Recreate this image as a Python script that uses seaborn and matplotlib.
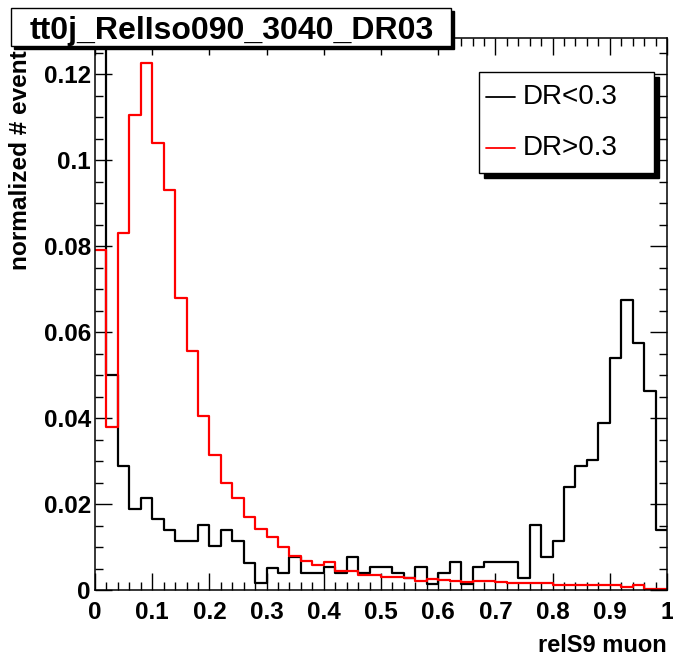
import numpy as np
import pandas as pd
import seaborn as sns
import matplotlib
matplotlib.use("Agg")
import matplotlib.pyplot as plt
from matplotlib.patches import Rectangle
from matplotlib.lines import Line2D
from matplotlib.ticker import MultipleLocator, FormatStrFormatter

# 50 bins of width 0.02 on relS9 in [0, 1]
n_bins = 50
bin_centers = (np.arange(n_bins) + 0.5) / n_bins

# DR<0.3 (first bin runs off the top of the frame)
dr_lt = [0.15, 0.050, 0.0288, 0.0188, 0.0214, 0.0165, 0.0140, 0.0114, 0.0114, 0.0151,
         0.0102, 0.0139, 0.0114, 0.0063, 0.0016, 0.0052, 0.0040, 0.0076, 0.0039, 0.0039,
         0.0053, 0.0039, 0.0076, 0.0039, 0.0053, 0.0053, 0.0039, 0.0028, 0.0053, 0.0014,
         0.0039, 0.0064, 0.0014, 0.0053, 0.0064, 0.0064, 0.0064, 0.0027, 0.0151, 0.0076,
         0.0114, 0.0239, 0.0288, 0.0302, 0.0389, 0.0540, 0.0675, 0.0575, 0.0463, 0.0140]

# DR>0.3
dr_gt = [0.0790, 0.0380, 0.0830, 0.1105, 0.1225, 0.1040, 0.0930, 0.0680, 0.0557, 0.0405,
         0.0315, 0.0250, 0.0214, 0.0170, 0.0143, 0.0123, 0.0101, 0.0080, 0.0068, 0.0059,
         0.0065, 0.0044, 0.0044, 0.0035, 0.0035, 0.0031, 0.0030, 0.0028, 0.0022, 0.0026,
         0.0024, 0.0020, 0.0018, 0.0022, 0.0020, 0.0018, 0.0016, 0.0016, 0.0016, 0.0016,
         0.0012, 0.0012, 0.0012, 0.0012, 0.0012, 0.0011, 0.0006, 0.0011, 0.0003, 0.0003]

labels = ["DR<0.3", "DR>0.3"]
colors = ["black", "#ff0000"]

sns.set_style("ticks", {"text.color": "black", "axes.edgecolor": "black",
                        "xtick.color": "black", "ytick.color": "black",
                        "axes.labelcolor": "black"})
plt.rcParams['font.family'] = ['Liberation Sans', 'DejaVu Sans']

W, H = 673, 663
fig = plt.figure(figsize=(W / 100, H / 100), dpi=100)


def fx(x):
    return x / W


def fy(y):
    return 1 - y / H


ax = fig.add_axes([fx(95), fy(590), fx(667) - fx(95), fy(38) - fy(590)])

for lab, vals, col in zip(labels, [dr_lt, dr_gt], colors):
    df = pd.DataFrame({"x": bin_centers, "w": vals})
    sns.histplot(data=df, x="x", weights="w", bins=n_bins, binrange=(0, 1), element="step",
                 fill=False, color=col, linewidth=1.6, ax=ax)

ax.set_xlim(0, 1)
ax.set_ylim(0, 0.1284)
ax.set_xlabel("")
ax.set_ylabel("")
ax.xaxis.set_major_locator(MultipleLocator(0.1))
ax.xaxis.set_minor_locator(MultipleLocator(0.02))
ax.yaxis.set_major_locator(MultipleLocator(0.02))
ax.yaxis.set_minor_locator(MultipleLocator(0.005))
ax.xaxis.set_major_formatter(FormatStrFormatter("%g"))
ax.yaxis.set_major_formatter(FormatStrFormatter("%g"))
ax.tick_params(which="both", direction="in", top=True, right=True, color="black", width=1)
ax.tick_params(which="major", length=12)
ax.tick_params(which="minor", length=5.8)
ax.tick_params(axis="x", which="major", pad=8, labelsize=17.5, labelcolor="black")
ax.tick_params(axis="y", which="major", pad=3, labelsize=17.5, labelcolor="black")
for lbl in ax.get_xticklabels() + ax.get_yticklabels():
    lbl.set_fontweight("bold")
for sp in ax.spines.values():
    sp.set_visible(True)
    sp.set_color("black")
    sp.set_linewidth(1.1)

# axis titles, ROOT style at the ends of the axes
fig.text(fx(667), fy(645), "relS9 muon", ha="right", va="center",
         fontsize=17, fontweight="bold", color="black")
ylab = fig.text(fx(21), fy(270), "normalized # events", rotation=90, ha="center",
                va="bottom", fontsize=17.6, fontweight="bold", color="black")
# the pave hides the end of the y title in the original
ylab.set_clip_path(Rectangle((0, 0), 0.2, fy(51), transform=fig.transFigure))

# title pave with shadow
fig.patches.append(Rectangle((fx(14), fy(49)), fx(440), 38 / H, transform=fig.transFigure,
                             facecolor="black", edgecolor="black", zorder=10))
fig.patches.append(Rectangle((fx(11), fy(46)), fx(440), 38 / H, transform=fig.transFigure,
                             facecolor="white", edgecolor="black", linewidth=1, zorder=11))
fig.text(fx(232), fy(38.5), "tt0j_RelIso090_3040_DR03", ha="center", va="baseline",
         fontsize=23, fontweight="bold", color="black", zorder=12)

# legend pave with shadow
fig.patches.append(Rectangle((fx(484), fy(178)), fx(175), 101 / H, transform=fig.transFigure,
                             facecolor="black", edgecolor="black", zorder=10))
fig.patches.append(Rectangle((fx(479), fy(173)), fx(175), 101 / H, transform=fig.transFigure,
                             facecolor="white", edgecolor="black", linewidth=1, zorder=11))
for lab, col, yy in zip(labels, colors, [97, 148]):
    fig.lines.append(Line2D([fx(486), fx(515)], [fy(yy), fy(yy)], transform=fig.transFigure,
                            color=col, linewidth=1.3, zorder=12))
    fig.text(fx(523), fy(yy), lab, ha="left", va="center", fontsize=20,
             color="black", zorder=12)

fig.savefig("out.png", dpi=100)
